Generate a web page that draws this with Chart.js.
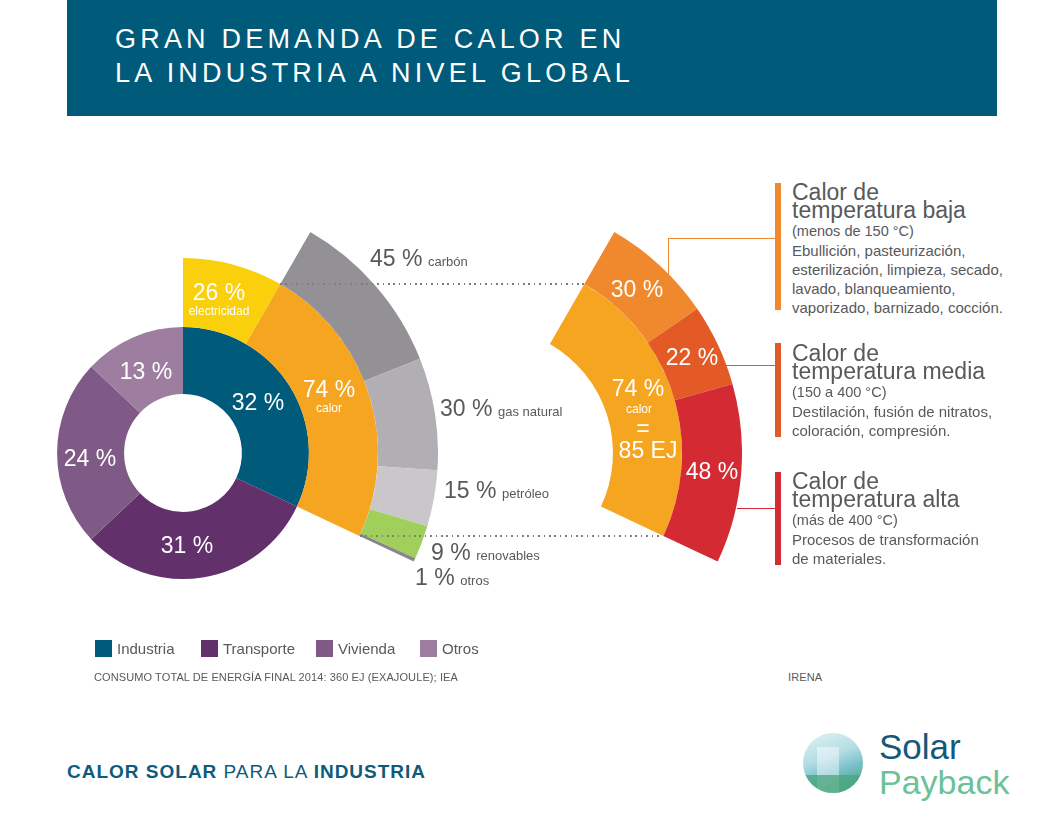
<!DOCTYPE html>
<html>
<head>
<meta charset="utf-8">
<script src="https://cdn.jsdelivr.net/npm/chart.js@4"></script>
<style>
  html, body { margin: 0; padding: 0; }
  body { width: 1063px; height: 819px; overflow: hidden; position: relative; background: #fff;
         font-family: "Liberation Sans", Arial, Helvetica, sans-serif; color: #58595b; }
  .banner { position: absolute; left: 67px; top: 0; width: 930px; height: 116px; background: #005a7a; }
  .banner h1 { position: absolute; left: 48px; top: 22px; margin: 0; font-weight: normal; color: #fff;
               font-size: 27px; line-height: 34px; letter-spacing: 4.2px; }
  .chartbox { position: absolute; width: 510px; height: 510px; }
  .lbl { position: absolute; white-space: nowrap; line-height: 1; }
  .c { transform: translate(-50%, -50%); text-align: center; color: #fff; }
  .big { font-size: 23px; }
  .small { font-size: 12.5px; }
  .out { transform: translateY(-50%); color: #58595b; }
  .out .small { font-size: 13px; margin-left: 2px; }
  .c .sub { font-size: 12px; display: block; margin-top: 1px; }
  .c .mini { font-size: 12px; }
  .dots { position: absolute; height: 2px;
          background: repeating-linear-gradient(to right, #7d7d80 0 1.6px, transparent 1.6px 5.4px); }
  .hl { position: absolute; height: 1px; }
  .vl { position: absolute; width: 1px; }
  .bar { position: absolute; left: 775px; width: 6px; }
  .block { position: absolute; left: 792px; }
  .block .h { font-size: 23px; line-height: 18px; }
  .block .s { font-size: 14.5px; line-height: 18px; margin-top: 3px; }
  .block .b { font-size: 15px; line-height: 19px; margin-top: 1px; }
  .legend { position: absolute; top: 640px; font-size: 15px; line-height: 17px; }
  .legend i { display: inline-block; width: 17px; height: 17px; vertical-align: top; margin-right: 5px; }
  .note { position: absolute; top: 671px; font-size: 11px; letter-spacing: 0.1px; }
  .footer { position: absolute; left: 67px; top: 761px; font-size: 19px; color: #0f5b7b; letter-spacing: 1px; }
  .footer b { font-weight: bold; }
  .logo { position: absolute; left: 803px; top: 733px; width: 60px; height: 60px; border-radius: 50%; overflow: hidden;
          background: linear-gradient(160deg, #e2f2f5 0%, #b4dde4 40%, #7cc3cc 60%, #5aae9a 80%, #4aa57e 100%); }
  .logo .fac { position: absolute; left: 14px; top: 14px; width: 22px; height: 46px;
               background: rgba(255,255,255,0.45); }
  .logo .ground { position: absolute; left: 0; bottom: 0; width: 60px; height: 18px; background: rgba(74,165,126,0.75); }
  .solar { position: absolute; left: 879px; top: 727px; font-size: 35px; color: #14587a; }
  .payback { position: absolute; left: 879px; top: 763px; font-size: 34px; color: #6cc196; }
</style>
</head>
<body>
<div class="banner"><h1>GRAN DEMANDA DE CALOR EN<br>LA INDUSTRIA A NIVEL GLOBAL</h1></div>

<div class="chartbox" style="left:-72px; top:198px;"><canvas id="leftChart" width="510" height="510"></canvas></div>
<div class="chartbox" style="left:232px; top:198px;"><canvas id="rightChart" width="510" height="510"></canvas></div>

<div id="labels"></div>

<div class="dots" style="left:280px; top:283px; width:305px;"></div>
<div class="dots" style="left:360px; top:535px; width:302px;"></div>

<div class="vl" style="left:668px; top:238px; height:36px; background:#f0892e;"></div>
<div class="hl" style="left:668px; top:238px; width:108px; background:#f0892e;"></div>
<div class="hl" style="left:726px; top:365px; width:50px; background:#e05a28;"></div>
<div class="hl" style="left:737px; top:508px; width:39px; background:#d42a33;"></div>
<div class="bar" style="top:183px; height:127px; background:#f0892e;"></div>
<div class="bar" style="top:343px; height:94px; background:#e05a28;"></div>
<div class="bar" style="top:472px; height:93px; background:#d42a33;"></div>

<div class="block" style="top:183px;">
  <div class="h">Calor de<br>temperatura baja</div>
  <div class="s">(menos de 150 °C)</div>
  <div class="b">Ebullición, pasteurización,<br>esterilización, limpieza, secado,<br>lavado, blanqueamiento,<br>vaporizado, barnizado, cocción.</div>
</div>
<div class="block" style="top:344px;">
  <div class="h">Calor de<br>temperatura media</div>
  <div class="s">(150 a 400 °C)</div>
  <div class="b">Destilación, fusión de nitratos,<br>coloración, compresión.</div>
</div>
<div class="block" style="top:472px;">
  <div class="h">Calor de<br>temperatura alta</div>
  <div class="s">(más de 400 °C)</div>
  <div class="b">Procesos de transformación<br>de materiales.</div>
</div>

<div id="legend"></div>
<div class="note" style="left:94px;">CONSUMO TOTAL DE ENERGÍA FINAL 2014: 360 EJ (EXAJOULE); IEA</div>
<div class="note" style="left:788px;">IRENA</div>

<div class="footer"><b>CALOR SOLAR</b> PARA LA <b>INDUSTRIA</b></div>
<div class="logo"><div class="fac"></div><div class="ground"></div></div>
<div class="solar">Solar</div>
<div class="payback">Payback</div>

<script>
// consumo final por sector (%)
const sectorLabels = ["Industria", "Transporte", "Vivienda", "Otros"];
const sectorShares = [32, 31, 24, 13];
const sectorColors = ["#005a7a", "#62306a", "#805a87", "#9d7ea0"];

// industria: electricidad / calor (%)
const industryLabels = ["electricidad", "calor"];
const industryShares = [26, 74];
const industryColors = ["#f9d00b", "#f6a521"];

// calor por fuente (%)
const fuelLabels = ["carbón", "gas natural", "petróleo", "renovables", "otros"];
const fuelShares = [45, 30, 15, 9, 1];
const fuelColors = ["#939196", "#b1afb3", "#c9c7ca", "#a1cf5b", "#88878c"];

// calor por temperatura (%)
const heatLabels = ["baja", "media", "alta"];
const heatShares = [30, 22, 48];
const heatColors = ["#f0892e", "#e45a27", "#d42a33"];

const heatTotalEJ = 85;

const sum = (arr) => arr.reduce((a, b) => a + b, 0);
const industryArc = sectorShares[0] / sum(sectorShares) * 360;
const calorStart = industryShares[0] / sum(industryShares) * industryArc;
const calorArc = industryArc - calorStart;

const arcBase = { borderWidth: 0, hoverBorderWidth: 0, offset: 0, hoverOffset: 0 };
const baseOptions = {
  responsive: false,
  animation: false,
  events: [],
  cutout: "23.1%",
  plugins: { legend: { display: false }, tooltip: { enabled: false } },
};

new Chart(document.getElementById("leftChart"), {
  type: "doughnut",
  data: {
    datasets: [
      { data: fuelShares, backgroundColor: fuelColors, rotation: calorStart, circumference: calorArc, weight: 60, ...arcBase },
      { data: industryShares, backgroundColor: industryColors, rotation: 0, circumference: industryArc, weight: 69, ...arcBase },
      { data: sectorShares, backgroundColor: sectorColors, weight: 67, ...arcBase },
    ],
  },
  options: baseOptions,
});

new Chart(document.getElementById("rightChart"), {
  type: "doughnut",
  data: {
    datasets: [
      { data: heatShares, backgroundColor: heatColors, rotation: calorStart, circumference: calorArc, weight: 60, ...arcBase },
      { data: [industryShares[1]], backgroundColor: [industryColors[1]], rotation: calorStart, circumference: calorArc, weight: 69, ...arcBase },
      // anillo vacio para que el centro quede igual que en la izquierda
      { data: [1], backgroundColor: ["rgba(0,0,0,0)"], weight: 67, ...arcBase },
    ],
  },
  options: baseOptions,
});

// etiquetas
const labels = document.getElementById("labels");
function addLabel(html, cls, x, y) {
  const el = document.createElement("div");
  el.className = "lbl " + cls;
  el.style.left = x + "px";
  el.style.top = y + "px";
  el.innerHTML = html;
  labels.appendChild(el);
}

addLabel(`<span class="big">${sectorShares[0]} %</span>`, "c", 258, 402);
addLabel(`<span class="big">${sectorShares[1]} %</span>`, "c", 187, 545);
addLabel(`<span class="big">${sectorShares[2]} %</span>`, "c", 90, 458);
addLabel(`<span class="big">${sectorShares[3]} %</span>`, "c", 146, 371);
addLabel(`<span class="big">${industryShares[0]} %</span><span class="sub">${industryLabels[0]}</span>`, "c", 219, 299);
addLabel(`<span class="big">${industryShares[1]} %</span><span class="sub">${industryLabels[1]}</span>`, "c", 329, 396);

const fuelPos = [[370, 258], [440, 408], [444, 490], [431, 552], [415, 577]];
fuelShares.forEach((v, i) => {
  addLabel(`<span class="big">${v} %</span><span class="small"> ${fuelLabels[i]}</span>`, "out", fuelPos[i][0], fuelPos[i][1]);
});

const heatPos = [[637, 289], [692, 357], [712, 471]];
heatShares.forEach((v, i) => {
  addLabel(`<span class="big">${v} %</span>`, "c", heatPos[i][0], heatPos[i][1]);
});
addLabel(`<span class="big">${industryShares[1]} %</span>`, "c", 638, 388);
addLabel(`<span class="mini">${industryLabels[1]}</span>`, "c", 639, 408);
addLabel(`<span class="big">=</span>`, "c", 643, 428);
addLabel(`<span class="big">${heatTotalEJ} EJ</span>`, "c", 648, 450);

// leyenda
const legend = document.getElementById("legend");
const legendX = [95, 201, 316, 420];
sectorLabels.forEach((name, i) => {
  const el = document.createElement("div");
  el.className = "legend";
  el.style.left = legendX[i] + "px";
  el.innerHTML = `<i style="background:${sectorColors[i]}"></i>${name}`;
  legend.appendChild(el);
});
</script>
</body>
</html>
